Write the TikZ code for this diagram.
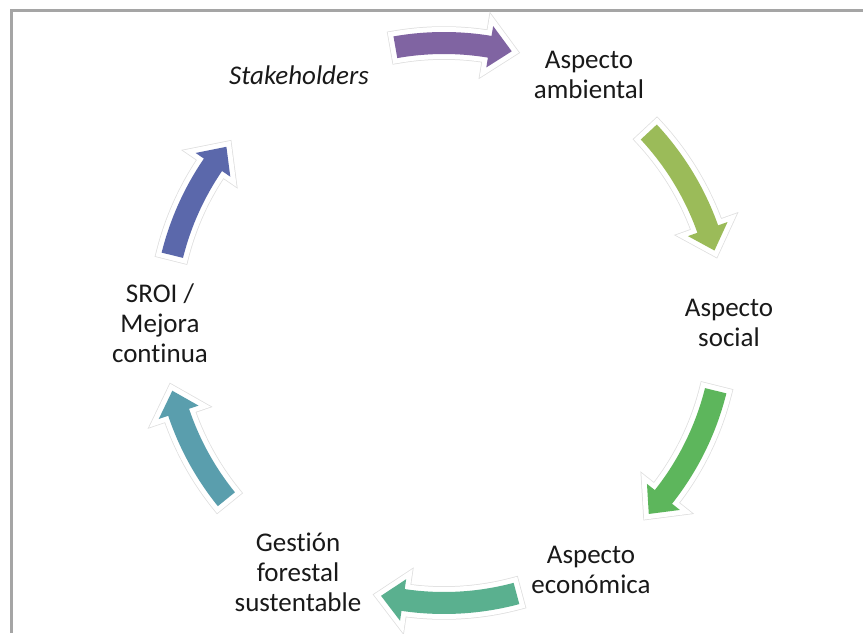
\documentclass[tikz,border=0pt]{standalone}
\usepackage{fontspec}
\setmainfont[Ligatures=NoCommon]{Carlito}
\definecolor{bordercol}{RGB}{165,165,165}
\definecolor{haloline}{RGB}{222,222,222}
\definecolor{cpurple}{HTML}{8064A2}
\definecolor{cygreen}{HTML}{9BBB59}
\definecolor{cgreen}{HTML}{5DB65C}
\definecolor{cteal}{HTML}{5AB08F}
\definecolor{ctealblue}{HTML}{5A9EAD}
\definecolor{cblue}{HTML}{5B68AB}
\newcommand\cyclearrow[3]{%
  \pgfmathsetmacro\hb{#3+4.6}%
  \path[arrowshape, fill=#1]
    (#2:291pt) arc[start angle=#2, end angle=\hb, radius=291pt]
    -- (\hb:301pt) -- (#3:280pt) -- (\hb:259pt) -- (\hb:269pt)
    arc[start angle=\hb, end angle=#2, radius=269pt] -- cycle;
}
\begin{document}
\begin{tikzpicture}[x=1pt,y=1pt,
  lbl/.style={align=center, inner sep=0pt, text=black!90,
    font=\fontsize{27}{30}\selectfont},
  arrowshape/.style={line join=miter, miter limit=3,
    preaction={draw=haloline, line width=11.5pt},
    preaction={draw=white, line width=10pt}}]
\useasboundingbox (0,0) rectangle (863,633);
\draw[bordercol, line width=3pt] (11,0) -- (11,622) -- (863,622);
% labels
\node[lbl] (stake) at (299,558) {\textit{Stakeholders}};
\node[lbl] (amb) at (589,558) {Aspecto\\ambiental};
\node[lbl] (soc) at (729,310) {Aspecto\\social};
\node[lbl] (eco) at (591,63) {Aspecto\\económica};
\node[lbl] (ges) at (298,61) {Gestión\\forestal\\sustentable};
\node[lbl] (sroi) at (160,310) {SROI /\\Mejora\\continua};
% arrows
\begin{scope}[shift={(444,310)}]
  \cyclearrow{cpurple}{100}{76}
  \cyclearrow{cygreen}{43}{15}
  \cyclearrow{cgreen}{-14}{-43}
  \cyclearrow{cteal}{-75}{-103}
  \cyclearrow{ctealblue}{219}{194}
  \cyclearrow{cblue}{166}{141}
\end{scope}
\end{tikzpicture}
\end{document}
